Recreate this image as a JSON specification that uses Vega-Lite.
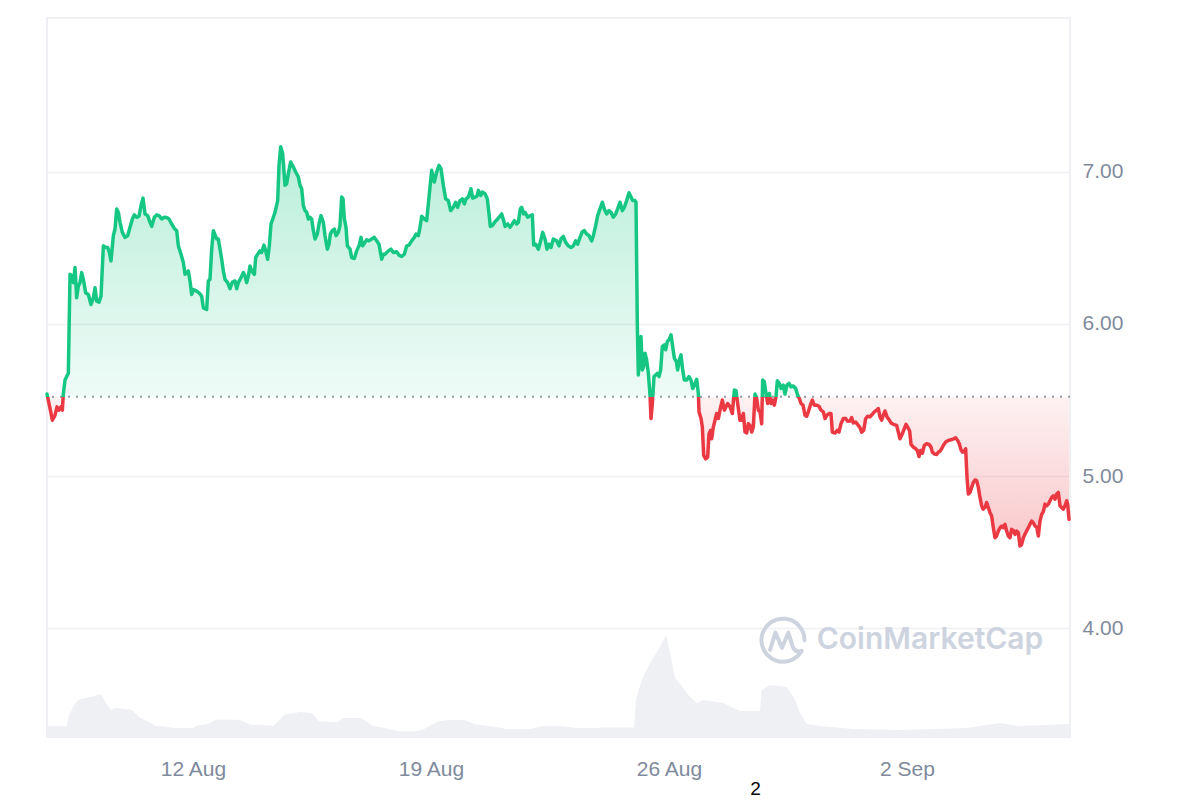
{
"$schema": "https://vega.github.io/schema/vega-lite/v6.json",
"width": 1023,
"height": 719,
"autosize": {"type": "none"},
"padding": {"left": 47, "top": 18, "right": 130, "bottom": 63},
"background": "white",
"config": {"view": {"stroke": "#EEF0F3", "strokeWidth": 2}, "font": "Liberation Sans"},
"title": {"text": "2", "orient": "bottom", "anchor": "start", "dx": 705, "offset": 1, "fontSize": 19, "font": "Liberation Sans", "fontWeight": "normal", "color": "#000000", "baseline": "top"},
"datasets": {
"price": [
{"t":"2024-08-07T16:57","p":5.539},{"t":"2024-08-07T18:50","p":5.455},{"t":"2024-08-07T20:43","p":5.367},{"t":"2024-08-07T22:36","p":5.400},
{"t":"2024-08-08T00:00","p":5.455},{"t":"2024-08-08T01:25","p":5.433},{"t":"2024-08-08T02:50","p":5.455},{"t":"2024-08-08T03:46","p":5.433},
{"t":"2024-08-08T04:29","p":5.543},{"t":"2024-08-08T05:39","p":5.631},{"t":"2024-08-08T06:50","p":5.654},{"t":"2024-08-08T08:00","p":5.676},
{"t":"2024-08-08T09:11","p":6.327},{"t":"2024-08-08T10:21","p":6.316},{"t":"2024-08-08T11:32","p":6.272},{"t":"2024-08-08T12:43","p":6.371},
{"t":"2024-08-08T13:53","p":6.172},{"t":"2024-08-08T15:04","p":6.250},{"t":"2024-08-08T16:14","p":6.272},{"t":"2024-08-08T17:25","p":6.338},
{"t":"2024-08-08T18:36","p":6.294},{"t":"2024-08-08T20:14","p":6.205},{"t":"2024-08-08T22:07","p":6.194},{"t":"2024-08-09T00:00","p":6.128},
{"t":"2024-08-09T01:39","p":6.172},{"t":"2024-08-09T02:50","p":6.239},{"t":"2024-08-09T04:00","p":6.150},{"t":"2024-08-09T05:39","p":6.144},
{"t":"2024-08-09T07:04","p":6.183},{"t":"2024-08-09T08:43","p":6.514},{"t":"2024-08-09T10:22","p":6.503},{"t":"2024-08-09T11:46","p":6.503},
{"t":"2024-08-09T12:57","p":6.470},{"t":"2024-08-09T14:07","p":6.415},{"t":"2024-08-09T15:46","p":6.581},{"t":"2024-08-09T16:57","p":6.625},
{"t":"2024-08-09T18:07","p":6.757},{"t":"2024-08-09T19:18","p":6.735},{"t":"2024-08-09T20:29","p":6.669},{"t":"2024-08-09T22:07","p":6.603},
{"t":"2024-08-10T00:00","p":6.570},{"t":"2024-08-10T01:53","p":6.581},{"t":"2024-08-10T03:32","p":6.636},{"t":"2024-08-10T05:11","p":6.691},
{"t":"2024-08-10T06:36","p":6.718},{"t":"2024-08-10T08:14","p":6.702},{"t":"2024-08-10T09:53","p":6.709},{"t":"2024-08-10T11:18","p":6.779},
{"t":"2024-08-10T12:43","p":6.828},{"t":"2024-08-10T14:07","p":6.724},{"t":"2024-08-10T16:00","p":6.713},{"t":"2024-08-10T17:39","p":6.669},
{"t":"2024-08-10T18:50","p":6.642},{"t":"2024-08-10T20:43","p":6.702},{"t":"2024-08-10T22:21","p":6.718},{"t":"2024-08-11T00:00","p":6.713},
{"t":"2024-08-11T01:53","p":6.691},{"t":"2024-08-11T03:46","p":6.702},{"t":"2024-08-11T05:25","p":6.700},{"t":"2024-08-11T07:04","p":6.691},
{"t":"2024-08-11T08:57","p":6.658},{"t":"2024-08-11T10:50","p":6.629},{"t":"2024-08-11T12:29","p":6.614},{"t":"2024-08-11T13:39","p":6.514},
{"t":"2024-08-11T15:32","p":6.459},{"t":"2024-08-11T17:11","p":6.404},{"t":"2024-08-11T18:22","p":6.327},{"t":"2024-08-11T19:32","p":6.338},
{"t":"2024-08-11T20:43","p":6.349},{"t":"2024-08-11T21:53","p":6.283},{"t":"2024-08-11T23:04","p":6.194},{"t":"2024-08-12T00:15","p":6.227},
{"t":"2024-08-12T02:36","p":6.216},{"t":"2024-08-12T04:15","p":6.205},{"t":"2024-08-12T06:08","p":6.183},{"t":"2024-08-12T07:18","p":6.106},
{"t":"2024-08-12T09:39","p":6.095},{"t":"2024-08-12T10:50","p":6.283},{"t":"2024-08-12T12:00","p":6.294},{"t":"2024-08-12T13:11","p":6.492},
{"t":"2024-08-12T14:22","p":6.614},
{"t":"2024-08-12T16:43","p":6.559},{"t":"2024-08-12T17:53","p":6.559},{"t":"2024-08-12T19:04","p":6.492},{"t":"2024-08-12T20:14","p":6.426},
{"t":"2024-08-12T21:25","p":6.349},{"t":"2024-08-12T22:36","p":6.294},{"t":"2024-08-13T00:28","p":6.272},{"t":"2024-08-13T02:07","p":6.232},
{"t":"2024-08-13T03:46","p":6.276},{"t":"2024-08-13T05:39","p":6.283},{"t":"2024-08-13T06:50","p":6.232},{"t":"2024-08-13T08:00","p":6.272},
{"t":"2024-08-13T09:53","p":6.305},{"t":"2024-08-13T11:32","p":6.338},{"t":"2024-08-13T12:43","p":6.316},{"t":"2024-08-13T13:53","p":6.272},
{"t":"2024-08-13T15:04","p":6.316},{"t":"2024-08-13T16:14","p":6.382},{"t":"2024-08-13T17:25","p":6.349},{"t":"2024-08-13T19:18","p":6.327},
{"t":"2024-08-13T20:14","p":6.437},{"t":"2024-08-13T21:39","p":6.459},{"t":"2024-08-13T23:18","p":6.481},{"t":"2024-08-14T00:28","p":6.470},
{"t":"2024-08-14T02:07","p":6.519},{"t":"2024-08-14T03:18","p":6.481},{"t":"2024-08-14T04:43","p":6.426},{"t":"2024-08-14T05:53","p":6.514},
{"t":"2024-08-14T07:04","p":6.658},{"t":"2024-08-14T08:43","p":6.702},{"t":"2024-08-14T09:53","p":6.735},{"t":"2024-08-14T11:46","p":6.812},
{"t":"2024-08-14T12:43","p":7.044},{"t":"2024-08-14T13:53","p":7.166},{"t":"2024-08-14T15:18","p":7.121},{"t":"2024-08-14T16:57","p":6.912},
{"t":"2024-08-14T18:07","p":6.923},{"t":"2024-08-14T19:18","p":6.989},{"t":"2024-08-14T20:57","p":7.066},{"t":"2024-08-14T22:50","p":7.033},
{"t":"2024-08-15T00:29","p":7.000},{"t":"2024-08-15T02:22","p":6.967},{"t":"2024-08-15T03:32","p":6.912},{"t":"2024-08-15T04:43","p":6.890},
{"t":"2024-08-15T05:53","p":6.779},{"t":"2024-08-15T07:04","p":6.746},{"t":"2024-08-15T08:14","p":6.735},{"t":"2024-08-15T09:25","p":6.691},
{"t":"2024-08-15T10:36","p":6.702},{"t":"2024-08-15T11:46","p":6.691},{"t":"2024-08-15T12:57","p":6.614},{"t":"2024-08-15T14:07","p":6.559},
{"t":"2024-08-15T15:46","p":6.592},{"t":"2024-08-15T16:57","p":6.658},{"t":"2024-08-15T18:21","p":6.713},{"t":"2024-08-15T20:00","p":6.669},
{"t":"2024-08-15T21:11","p":6.581},{"t":"2024-08-15T22:50","p":6.492},{"t":"2024-08-16T00:00","p":6.525},{"t":"2024-08-16T00:57","p":6.592},
{"t":"2024-08-16T02:21","p":6.614},{"t":"2024-08-16T03:46","p":6.625},{"t":"2024-08-16T04:57","p":6.581},{"t":"2024-08-16T06:36","p":6.603},
{"t":"2024-08-16T07:46","p":6.647},{"t":"2024-08-16T08:57","p":6.835},{"t":"2024-08-16T09:53","p":6.823},{"t":"2024-08-16T10:50","p":6.691},
{"t":"2024-08-16T12:00","p":6.636},{"t":"2024-08-16T12:57","p":6.514},{"t":"2024-08-16T14:50","p":6.492},{"t":"2024-08-16T16:00","p":6.437},
{"t":"2024-08-16T17:53","p":6.431},{"t":"2024-08-16T19:32","p":6.481},{"t":"2024-08-16T21:11","p":6.514},{"t":"2024-08-16T22:36","p":6.570},
{"t":"2024-08-16T23:46","p":6.514},{"t":"2024-08-17T01:25","p":6.537},{"t":"2024-08-17T02:36","p":6.554},{"t":"2024-08-17T04:15","p":6.547},
{"t":"2024-08-17T06:08","p":6.559},{"t":"2024-08-17T08:00","p":6.570},{"t":"2024-08-17T09:39","p":6.547},{"t":"2024-08-17T11:18","p":6.525},
{"t":"2024-08-17T13:11","p":6.426},{"t":"2024-08-17T14:22","p":6.459},
{"t":"2024-08-17T15:32","p":6.459},{"t":"2024-08-17T17:53","p":6.481},{"t":"2024-08-17T19:46","p":6.492},{"t":"2024-08-17T21:25","p":6.470},
{"t":"2024-08-17T23:46","p":6.475},{"t":"2024-08-18T01:25","p":6.453},{"t":"2024-08-18T03:18","p":6.444},{"t":"2024-08-18T05:11","p":6.459},
{"t":"2024-08-18T06:50","p":6.514},{"t":"2024-08-18T08:29","p":6.519},{"t":"2024-08-18T10:21","p":6.547},{"t":"2024-08-18T12:14","p":6.570},
{"t":"2024-08-18T13:25","p":6.592},{"t":"2024-08-18T15:04","p":6.581},{"t":"2024-08-18T16:14","p":6.636},{"t":"2024-08-18T17:25","p":6.709},
{"t":"2024-08-18T19:18","p":6.691},{"t":"2024-08-18T20:57","p":6.680},{"t":"2024-08-18T22:36","p":6.835},{"t":"2024-08-19T00:28","p":7.011},
{"t":"2024-08-19T02:21","p":6.934},{"t":"2024-08-19T04:00","p":7.000},{"t":"2024-08-19T05:39","p":7.044},{"t":"2024-08-19T07:04","p":7.022},
{"t":"2024-08-19T08:43","p":6.912},{"t":"2024-08-19T10:22","p":6.823},{"t":"2024-08-19T12:14","p":6.812},{"t":"2024-08-19T13:53","p":6.746},
{"t":"2024-08-19T15:46","p":6.768},{"t":"2024-08-19T17:25","p":6.801},{"t":"2024-08-19T18:50","p":6.768},{"t":"2024-08-19T20:29","p":6.812},
{"t":"2024-08-19T22:07","p":6.823},{"t":"2024-08-19T23:32","p":6.790},{"t":"2024-08-20T00:43","p":6.823},{"t":"2024-08-20T02:22","p":6.835},
{"t":"2024-08-20T04:14","p":6.890},{"t":"2024-08-20T05:25","p":6.828},{"t":"2024-08-20T07:04","p":6.835},{"t":"2024-08-20T08:29","p":6.841},
{"t":"2024-08-20T09:25","p":6.879},{"t":"2024-08-20T11:04","p":6.846},{"t":"2024-08-20T12:15","p":6.868},{"t":"2024-08-20T14:07","p":6.857},
{"t":"2024-08-20T15:46","p":6.823},{"t":"2024-08-20T16:57","p":6.724},{"t":"2024-08-20T17:53","p":6.642},{"t":"2024-08-20T19:18","p":6.647},
{"t":"2024-08-20T21:11","p":6.673},{"t":"2024-08-20T23:04","p":6.691},{"t":"2024-08-21T00:43","p":6.709},{"t":"2024-08-21T01:53","p":6.724},
{"t":"2024-08-21T03:18","p":6.680},{"t":"2024-08-21T04:15","p":6.642},{"t":"2024-08-21T06:07","p":6.658},{"t":"2024-08-21T07:46","p":6.636},
{"t":"2024-08-21T09:25","p":6.658},{"t":"2024-08-21T10:50","p":6.680},{"t":"2024-08-21T12:29","p":6.658},{"t":"2024-08-21T13:39","p":6.669},
{"t":"2024-08-21T15:04","p":6.757},{"t":"2024-08-21T16:00","p":6.768},{"t":"2024-08-21T17:25","p":6.724},{"t":"2024-08-21T18:22","p":6.735},
{"t":"2024-08-21T20:15","p":6.702},{"t":"2024-08-21T21:53","p":6.713},{"t":"2024-08-21T23:32","p":6.718},{"t":"2024-08-22T00:29","p":6.519},
{"t":"2024-08-22T01:53","p":6.525},{"t":"2024-08-22T03:46","p":6.492},{"t":"2024-08-22T05:25","p":6.547},{"t":"2024-08-22T06:50","p":6.603},
{"t":"2024-08-22T08:29","p":6.559},{"t":"2024-08-22T09:53","p":6.492},{"t":"2024-08-22T11:18","p":6.525},{"t":"2024-08-22T12:43","p":6.503},
{"t":"2024-08-22T14:22","p":6.559},
{"t":"2024-08-22T16:43","p":6.547},{"t":"2024-08-22T18:21","p":6.514},{"t":"2024-08-22T19:46","p":6.559},{"t":"2024-08-22T21:25","p":6.576},
{"t":"2024-08-22T23:04","p":6.537},{"t":"2024-08-23T00:57","p":6.514},{"t":"2024-08-23T02:50","p":6.503},{"t":"2024-08-23T04:29","p":6.514},
{"t":"2024-08-23T06:07","p":6.547},{"t":"2024-08-23T07:32","p":6.525},{"t":"2024-08-23T09:11","p":6.570},{"t":"2024-08-23T10:50","p":6.607},
{"t":"2024-08-23T12:14","p":6.614},{"t":"2024-08-23T13:53","p":6.592},{"t":"2024-08-23T15:32","p":6.581},{"t":"2024-08-23T17:25","p":6.547},
{"t":"2024-08-23T18:36","p":6.581},{"t":"2024-08-23T20:14","p":6.647},{"t":"2024-08-23T21:39","p":6.713},{"t":"2024-08-23T23:18","p":6.757},
{"t":"2024-08-24T00:57","p":6.801},{"t":"2024-08-24T02:21","p":6.757},{"t":"2024-08-24T04:00","p":6.724},{"t":"2024-08-24T05:39","p":6.746},
{"t":"2024-08-24T07:04","p":6.735},{"t":"2024-08-24T08:43","p":6.702},{"t":"2024-08-24T10:22","p":6.724},{"t":"2024-08-24T11:46","p":6.757},
{"t":"2024-08-24T13:25","p":6.801},{"t":"2024-08-24T15:04","p":6.746},{"t":"2024-08-24T16:29","p":6.768},{"t":"2024-08-24T18:07","p":6.812},
{"t":"2024-08-24T19:46","p":6.863},{"t":"2024-08-24T21:11","p":6.835},{"t":"2024-08-24T22:22","p":6.812},{"t":"2024-08-25T00:00","p":6.812},
{"t":"2024-08-25T00:43","p":6.801},{"t":"2024-08-25T01:39","p":5.985},{"t":"2024-08-25T02:22","p":5.665},{"t":"2024-08-25T03:32","p":5.808},
{"t":"2024-08-25T04:14","p":5.918},{"t":"2024-08-25T05:11","p":5.698},{"t":"2024-08-25T06:07","p":5.720},{"t":"2024-08-25T07:04","p":5.808},
{"t":"2024-08-25T08:14","p":5.764},{"t":"2024-08-25T09:25","p":5.676},{"t":"2024-08-25T10:36","p":5.532},{"t":"2024-08-25T11:18","p":5.378},
{"t":"2024-08-25T12:15","p":5.477},{"t":"2024-08-25T13:25","p":5.654},{"t":"2024-08-25T14:36","p":5.665},{"t":"2024-08-25T15:46","p":5.676},
{"t":"2024-08-25T16:57","p":5.654},{"t":"2024-08-25T18:07","p":5.698},{"t":"2024-08-25T19:18","p":5.852},{"t":"2024-08-25T20:43","p":5.863},
{"t":"2024-08-25T21:39","p":5.830},{"t":"2024-08-25T22:50","p":5.885},{"t":"2024-08-26T00:00","p":5.896},{"t":"2024-08-26T01:25","p":5.929},
{"t":"2024-08-26T02:36","p":5.852},{"t":"2024-08-26T03:46","p":5.775},{"t":"2024-08-26T05:11","p":5.753},{"t":"2024-08-26T06:07","p":5.698},
{"t":"2024-08-26T07:18","p":5.764},{"t":"2024-08-26T08:29","p":5.797},{"t":"2024-08-26T09:39","p":5.698},{"t":"2024-08-26T10:50","p":5.631},
{"t":"2024-08-26T12:29","p":5.631},{"t":"2024-08-26T14:07","p":5.654},{"t":"2024-08-26T15:32","p":5.631},{"t":"2024-08-26T16:43","p":5.576},
{"t":"2024-08-26T18:22","p":5.609},{"t":"2024-08-26T19:32","p":5.636},{"t":"2024-08-26T20:43","p":5.543},{"t":"2024-08-26T21:11","p":5.422},
{"t":"2024-08-26T22:36","p":5.378},{"t":"2024-08-26T23:32","p":5.322},{"t":"2024-08-27T00:29","p":5.135},{"t":"2024-08-27T01:53","p":5.113},
{"t":"2024-08-27T03:18","p":5.124},{"t":"2024-08-27T04:15","p":5.278},{"t":"2024-08-27T05:25","p":5.300},{"t":"2024-08-27T06:08","p":5.245},
{"t":"2024-08-27T07:18","p":5.322},{"t":"2024-08-27T08:29","p":5.367},{"t":"2024-08-27T09:39","p":5.411},{"t":"2024-08-27T10:50","p":5.378},
{"t":"2024-08-27T12:29","p":5.455},{"t":"2024-08-27T13:39","p":5.499},{"t":"2024-08-27T15:04","p":5.433},
{"t":"2024-08-27T17:25","p":5.477},{"t":"2024-08-27T19:04","p":5.455},{"t":"2024-08-27T20:43","p":5.411},{"t":"2024-08-27T22:07","p":5.565},
{"t":"2024-08-27T23:18","p":5.561},{"t":"2024-08-28T00:28","p":5.477},{"t":"2024-08-28T02:07","p":5.367},{"t":"2024-08-28T03:18","p":5.367},
{"t":"2024-08-28T04:29","p":5.411},{"t":"2024-08-28T05:39","p":5.289},{"t":"2024-08-28T06:50","p":5.283},{"t":"2024-08-28T08:00","p":5.344},
{"t":"2024-08-28T09:11","p":5.333},{"t":"2024-08-28T10:21","p":5.289},{"t":"2024-08-28T11:32","p":5.322},{"t":"2024-08-28T12:43","p":5.539},
{"t":"2024-08-28T13:53","p":5.510},{"t":"2024-08-28T15:04","p":5.433},{"t":"2024-08-28T16:14","p":5.422},{"t":"2024-08-28T17:25","p":5.344},
{"t":"2024-08-28T18:07","p":5.631},{"t":"2024-08-28T19:18","p":5.620},{"t":"2024-08-28T20:28","p":5.543},{"t":"2024-08-28T21:39","p":5.477},
{"t":"2024-08-28T22:50","p":5.543},{"t":"2024-08-29T00:00","p":5.477},{"t":"2024-08-29T01:11","p":5.499},{"t":"2024-08-29T02:21","p":5.466},
{"t":"2024-08-29T03:32","p":5.521},{"t":"2024-08-29T04:28","p":5.627},{"t":"2024-08-29T05:53","p":5.609},{"t":"2024-08-29T07:04","p":5.576},
{"t":"2024-08-29T08:43","p":5.598},{"t":"2024-08-29T09:53","p":5.539},{"t":"2024-08-29T11:18","p":5.598},{"t":"2024-08-29T12:43","p":5.609},
{"t":"2024-08-29T14:07","p":5.587},{"t":"2024-08-29T15:46","p":5.592},{"t":"2024-08-29T17:25","p":5.576},{"t":"2024-08-29T18:50","p":5.532},
{"t":"2024-08-29T20:00","p":5.510},{"t":"2024-08-29T21:11","p":5.477},{"t":"2024-08-29T22:36","p":5.466},{"t":"2024-08-30T00:00","p":5.400},
{"t":"2024-08-30T01:11","p":5.393},{"t":"2024-08-30T02:22","p":5.422},{"t":"2024-08-30T03:46","p":5.466},{"t":"2024-08-30T05:11","p":5.499},
{"t":"2024-08-30T06:36","p":5.466},{"t":"2024-08-30T08:14","p":5.466},{"t":"2024-08-30T09:53","p":5.459},{"t":"2024-08-30T11:18","p":5.433},
{"t":"2024-08-30T12:57","p":5.422},{"t":"2024-08-30T14:07","p":5.378},{"t":"2024-08-30T15:32","p":5.400},{"t":"2024-08-30T16:57","p":5.411},
{"t":"2024-08-30T18:21","p":5.411},{"t":"2024-08-30T19:18","p":5.289},{"t":"2024-08-30T21:11","p":5.283},{"t":"2024-08-30T22:50","p":5.300},
{"t":"2024-08-31T00:00","p":5.289},{"t":"2024-08-31T01:25","p":5.344},{"t":"2024-08-31T03:04","p":5.378},{"t":"2024-08-31T04:43","p":5.378},
{"t":"2024-08-31T06:07","p":5.360},{"t":"2024-08-31T07:46","p":5.362},{"t":"2024-08-31T08:57","p":5.384},{"t":"2024-08-31T10:07","p":5.349},
{"t":"2024-08-31T11:46","p":5.355},{"t":"2024-08-31T13:39","p":5.333},{"t":"2024-08-31T14:50","p":5.318},{"t":"2024-08-31T16:00","p":5.289},
{"t":"2024-08-31T17:25","p":5.300},{"t":"2024-08-31T18:50","p":5.378},{"t":"2024-08-31T20:15","p":5.393},{"t":"2024-08-31T21:53","p":5.389},
{"t":"2024-08-31T23:32","p":5.406},{"t":"2024-09-01T00:57","p":5.422},{"t":"2024-09-01T02:36","p":5.433},{"t":"2024-09-01T03:46","p":5.444},
{"t":"2024-09-01T04:57","p":5.389},{"t":"2024-09-01T06:08","p":5.367},{"t":"2024-09-01T07:18","p":5.400},{"t":"2024-09-01T08:29","p":5.428},
{"t":"2024-09-01T09:53","p":5.389},{"t":"2024-09-01T11:18","p":5.371},{"t":"2024-09-01T12:43","p":5.349},{"t":"2024-09-01T14:22","p":5.340},
{"t":"2024-09-01T16:43","p":5.333},{"t":"2024-09-01T17:53","p":5.289},{"t":"2024-09-01T19:04","p":5.245},{"t":"2024-09-01T20:43","p":5.278},
{"t":"2024-09-01T22:07","p":5.311},{"t":"2024-09-01T23:18","p":5.340},{"t":"2024-09-02T00:28","p":5.322},{"t":"2024-09-02T01:53","p":5.296},
{"t":"2024-09-02T02:50","p":5.208},{"t":"2024-09-02T04:29","p":5.190},{"t":"2024-09-02T06:07","p":5.179},{"t":"2024-09-02T07:18","p":5.168},
{"t":"2024-09-02T08:29","p":5.128},{"t":"2024-09-02T09:39","p":5.168},{"t":"2024-09-02T10:50","p":5.150},{"t":"2024-09-02T12:14","p":5.201},
{"t":"2024-09-02T13:53","p":5.212},{"t":"2024-09-02T15:32","p":5.208},{"t":"2024-09-02T16:57","p":5.190},{"t":"2024-09-02T17:53","p":5.157},
{"t":"2024-09-02T19:18","p":5.146},{"t":"2024-09-02T20:57","p":5.141},{"t":"2024-09-02T22:07","p":5.157},{"t":"2024-09-02T23:18","p":5.163},
{"t":"2024-09-03T00:28","p":5.179},{"t":"2024-09-03T01:39","p":5.201},{"t":"2024-09-03T03:18","p":5.223},{"t":"2024-09-03T05:11","p":5.234},
{"t":"2024-09-03T07:04","p":5.238},{"t":"2024-09-03T08:57","p":5.245},{"t":"2024-09-03T10:22","p":5.252},{"t":"2024-09-03T11:46","p":5.234},
{"t":"2024-09-03T12:57","p":5.212},{"t":"2024-09-03T14:07","p":5.172},{"t":"2024-09-03T15:18","p":5.157},{"t":"2024-09-03T16:29","p":5.163},
{"t":"2024-09-03T17:25","p":5.179},{"t":"2024-09-03T18:22","p":4.991},{"t":"2024-09-03T19:18","p":4.881},{"t":"2024-09-03T20:29","p":4.892},
{"t":"2024-09-03T21:39","p":4.925},{"t":"2024-09-03T22:50","p":4.958},{"t":"2024-09-04T00:00","p":4.974},{"t":"2024-09-04T01:11","p":4.969},
{"t":"2024-09-04T02:22","p":4.925},{"t":"2024-09-04T03:32","p":4.859},{"t":"2024-09-04T04:43","p":4.804},{"t":"2024-09-04T05:39","p":4.782},
{"t":"2024-09-04T07:04","p":4.793},{"t":"2024-09-04T08:14","p":4.826},{"t":"2024-09-04T09:25","p":4.793},{"t":"2024-09-04T10:36","p":4.759},
{"t":"2024-09-04T11:46","p":4.737},{"t":"2024-09-04T12:57","p":4.660},{"t":"2024-09-04T14:07","p":4.594},{"t":"2024-09-04T15:18","p":4.605},
{"t":"2024-09-04T16:29","p":4.638},{"t":"2024-09-04T17:39","p":4.660},{"t":"2024-09-04T18:50","p":4.671},{"t":"2024-09-04T20:00","p":4.660},
{"t":"2024-09-04T21:11","p":4.682},{"t":"2024-09-04T22:21","p":4.638},{"t":"2024-09-04T23:32","p":4.605},{"t":"2024-09-05T00:43","p":4.594},
{"t":"2024-09-05T01:53","p":4.649},{"t":"2024-09-05T03:04","p":4.642},{"t":"2024-09-05T04:15","p":4.616},{"t":"2024-09-05T05:25","p":4.638},
{"t":"2024-09-05T06:36","p":4.627},{"t":"2024-09-05T07:46","p":4.539},{"t":"2024-09-05T08:57","p":4.550},{"t":"2024-09-05T10:07","p":4.594},
{"t":"2024-09-05T11:46","p":4.627},{"t":"2024-09-05T13:39","p":4.660},{"t":"2024-09-05T14:50","p":4.682},{"t":"2024-09-05T16:00","p":4.704},
{"t":"2024-09-05T17:11","p":4.693},{"t":"2024-09-05T18:22","p":4.671},{"t":"2024-09-05T19:32","p":4.665},{"t":"2024-09-05T20:43","p":4.605},
{"t":"2024-09-05T21:53","p":4.704},{"t":"2024-09-05T23:04","p":4.748},{"t":"2024-09-06T00:14","p":4.766},{"t":"2024-09-06T01:25","p":4.815},
{"t":"2024-09-06T02:36","p":4.804},{"t":"2024-09-06T03:46","p":4.815},{"t":"2024-09-06T04:57","p":4.837},{"t":"2024-09-06T06:08","p":4.859},
{"t":"2024-09-06T07:18","p":4.870},{"t":"2024-09-06T08:29","p":4.848},{"t":"2024-09-06T09:39","p":4.881},{"t":"2024-09-06T10:50","p":4.892},
{"t":"2024-09-06T12:00","p":4.804},{"t":"2024-09-06T13:11","p":4.793},{"t":"2024-09-06T14:22","p":4.782},{"t":"2024-09-06T15:32","p":4.804},
{"t":"2024-09-06T16:43","p":4.837},{"t":"2024-09-06T17:25","p":4.815},{"t":"2024-09-06T18:22","p":4.715}
],
"volume": [
{"t":"2024-08-07T16:56","v":2.7},{"t":"2024-08-08T06:55","v":2.7},{"t":"2024-08-08T08:16","v":5.2},{"t":"2024-08-08T12:17","v":8.1},
{"t":"2024-08-08T15:02","v":9.3},{"t":"2024-08-08T20:24","v":9.75},{"t":"2024-08-09T01:50","v":10.2},{"t":"2024-08-09T07:12","v":10.75},
{"t":"2024-08-09T09:57","v":8.9},{"t":"2024-08-09T13:59","v":6.8},{"t":"2024-08-09T18:00","v":7.25},{"t":"2024-08-10T04:48","v":6.8},
{"t":"2024-08-10T10:14","v":4.9},{"t":"2024-08-10T18:21","v":3.5},{"t":"2024-08-10T21:02","v":2.8},{"t":"2024-08-11T02:28","v":2.7},
{"t":"2024-08-11T10:35","v":2.25},{"t":"2024-08-12T00:04","v":2.25},{"t":"2024-08-12T02:45","v":2.8},{"t":"2024-08-12T10:52","v":3.3},
{"t":"2024-08-12T16:14","v":4.3},{"t":"2024-08-13T08:28","v":4.3},{"t":"2024-08-13T16:35","v":3.1},{"t":"2024-08-14T08:45","v":2.8},
{"t":"2024-08-14T16:52","v":5.6},{"t":"2024-08-15T03:40","v":6.25},{"t":"2024-08-15T11:47","v":6.0},{"t":"2024-08-15T17:13","v":3.9},
{"t":"2024-08-16T06:43","v":3.75},{"t":"2024-08-16T09:23","v":4.75},{"t":"2024-08-16T22:56","v":4.75},{"t":"2024-08-17T07:04","v":2.8},
{"t":"2024-08-17T15:07","v":2.25},{"t":"2024-08-18T01:55","v":1.4},{"t":"2024-08-18T12:43","v":1.4},{"t":"2024-08-18T18:08","v":1.8},
{"t":"2024-08-19T04:56","v":3.9},{"t":"2024-08-19T13:04","v":4.3},{"t":"2024-08-19T23:52","v":4.2},{"t":"2024-08-20T07:59","v":3.1},
{"t":"2024-08-20T18:47","v":2.7},{"t":"2024-08-21T05:35","v":2.0},{"t":"2024-08-21T21:49","v":2.0},{"t":"2024-08-22T05:52","v":2.7},
{"t":"2024-08-22T22:05","v":2.7},{"t":"2024-08-23T06:13","v":2.25},{"t":"2024-08-23T22:27","v":2.25},{"t":"2024-08-24T01:08","v":2.4},
{"t":"2024-08-24T23:18","v":2.4},{"t":"2024-08-25T00:42","v":9.25},{"t":"2024-08-25T04:44","v":14.25},{"t":"2024-08-25T10:35","v":18.5},
{"t":"2024-08-25T16:27","v":21.75},{"t":"2024-08-25T21:11","v":25.0},{"t":"2024-08-25T22:23","v":25.25},{"t":"2024-08-26T00:43","v":21.0},
{"t":"2024-08-26T04:14","v":14.75},{"t":"2024-08-26T08:58","v":12.75},{"t":"2024-08-26T13:38","v":10.5},{"t":"2024-08-26T19:34","v":8.5},
{"t":"2024-08-27T00:13","v":9.25},{"t":"2024-08-27T14:20","v":8.5},{"t":"2024-08-27T21:24","v":7.25},{"t":"2024-08-28T02:07","v":6.5},
{"t":"2024-08-28T16:14","v":6.5},{"t":"2024-08-28T17:26","v":11.75},{"t":"2024-08-28T23:17","v":13.0},{"t":"2024-08-29T11:05","v":12.5},
{"t":"2024-08-29T16:56","v":9.25},{"t":"2024-08-29T20:28","v":6.0},{"t":"2024-08-30T01:12","v":3.25},{"t":"2024-08-30T10:35","v":2.75},
{"t":"2024-08-31T10:06","v":2.0},{"t":"2024-09-01T19:04","v":1.75},{"t":"2024-09-03T18:08","v":2.25},{"t":"2024-09-04T17:39","v":3.5},
{"t":"2024-09-05T07:46","v":2.75},{"t":"2024-09-06T02:36","v":3.0},{"t":"2024-09-06T19:04","v":3.25}
]
},
"layer": [
{
"data": {"name": "volume"},
"mark": {"type": "area", "color": "#EEF0F3", "interpolate": "linear"},
"encoding": {
"x": {"field": "t", "type": "temporal", "scale": {"type": "time", "domain": [{"year":2024,"month":8,"date":7,"hours":16,"minutes":56},{"year":2024,"month":9,"date":6,"hours":19,"minutes":4}]}, "axis": {"values": [{"year":2024,"month":8,"date":12},{"year":2024,"month":8,"date":19},{"year":2024,"month":8,"date":26},{"year":2024,"month":9,"date":2}], "format": "%-d %b", "title": null, "domain": false, "ticks": false, "grid": false, "labelFontSize": 21, "labelColor": "#808A9D", "labelPadding": 21, "labelFont": "Liberation Sans", "labelFlush": false}},
"y": {"field": "v", "type": "quantitative", "scale": {"domain": [0, 179.75], "nice": false, "zero": true}, "axis": null}
}
},
{
"layer": [
{
"data": {"name": "price"},
"mark": {"type": "area", "interpolate": "linear", "fill": {"gradient": "linear", "x1": 0, "y1": 0, "x2": 0, "y2": 1, "stops": [{"offset": 0, "color": "rgba(22,199,132,0.30)"}, {"offset": 0.6262, "color": "rgba(22,199,132,0.07)"}, {"offset": 0.6262, "color": "rgba(234,57,67,0.07)"}, {"offset": 1, "color": "rgba(234,57,67,0.28)"}]}},
"encoding": {
"x": {"field": "t", "type": "temporal", "scale": {"type": "time", "domain": [{"year":2024,"month":8,"date":7,"hours":16,"minutes":56},{"year":2024,"month":9,"date":6,"hours":19,"minutes":4}]}, "axis": {"values": [{"year":2024,"month":8,"date":12},{"year":2024,"month":8,"date":19},{"year":2024,"month":8,"date":26},{"year":2024,"month":9,"date":2}], "format": "%-d %b", "title": null, "domain": false, "ticks": false, "grid": false, "labelFontSize": 21, "labelColor": "#808A9D", "labelPadding": 21, "labelFont": "Liberation Sans", "labelFlush": false}},
"y": {"field": "p", "type": "quantitative", "scale": {"domain": [3.283, 8.013], "nice": false, "zero": false}, "axis": {"orient": "right", "values": [4, 5, 6, 7], "format": ".2f", "title": null, "domain": false, "ticks": false, "grid": true, "gridColor": "#EEF0F3", "gridWidth": 1.5, "labelFontSize": 21, "labelColor": "#808A9D", "labelPadding": 12, "labelFont": "Liberation Sans", "labelAlign": "left", "labelBaseline": "middle"}},
"y2": {"datum": 5.521}
}
},
{
"data": {"values": [{}]},
"mark": {"type": "rule", "stroke": "#9499A3", "strokeWidth": 2, "strokeDash": [2, 6]},
"encoding": {
"y": {"datum": 5.521, "type": "quantitative", "scale": {"domain": [3.283, 8.013], "nice": false, "zero": false}}
}
},
{
"data": {"name": "price"},
"mark": {"type": "line", "interpolate": "linear", "strokeWidth": 3.5, "strokeJoin": "round", "strokeCap": "round", "stroke": {"gradient": "linear", "x1": 0, "y1": 0, "x2": 0, "y2": 1, "stops": [{"offset": 0, "color": "#16C784"}, {"offset": 0.6262, "color": "#16C784"}, {"offset": 0.6262, "color": "#EA3943"}, {"offset": 1, "color": "#EA3943"}]}},
"encoding": {
"x": {"field": "t", "type": "temporal", "scale": {"type": "time", "domain": [{"year":2024,"month":8,"date":7,"hours":16,"minutes":56},{"year":2024,"month":9,"date":6,"hours":19,"minutes":4}]}, "axis": {"values": [{"year":2024,"month":8,"date":12},{"year":2024,"month":8,"date":19},{"year":2024,"month":8,"date":26},{"year":2024,"month":9,"date":2}], "format": "%-d %b", "title": null, "domain": false, "ticks": false, "grid": false, "labelFontSize": 21, "labelColor": "#808A9D", "labelPadding": 21, "labelFont": "Liberation Sans", "labelFlush": false}},
"y": {"field": "p", "type": "quantitative", "scale": {"domain": [3.283, 8.013], "nice": false, "zero": false}, "axis": {"orient": "right", "values": [4, 5, 6, 7], "format": ".2f", "title": null, "domain": false, "ticks": false, "grid": true, "gridColor": "#EEF0F3", "gridWidth": 1.5, "labelFontSize": 21, "labelColor": "#808A9D", "labelPadding": 12, "labelFont": "Liberation Sans", "labelAlign": "left", "labelBaseline": "middle"}}
}
},
{
"data": {"values": [{}]},
"mark": {"type": "text", "text": "CoinMarketCap", "font": "Inter", "fontSize": 30, "fontWeight": 600, "color": "#CDD3DF", "align": "center", "baseline": "middle"},
"encoding": {
"x": {"datum": {"year":2024,"month":9,"date":2,"hours":16,"minutes":14}, "type": "temporal"},
"y": {"datum": 3.92, "type": "quantitative"}
}
},
{
"data": {"values": [{}]},
"mark": {"type": "point", "shape": "M0.866,0.5A1,1,0,1,1,1,0M-0.6,0.45L-0.35,-0.35L-0.05,0.35L0.25,-0.35L0.45,0.3Q0.6,0.62,0.866,0.5", "size": 1850, "filled": false, "stroke": "#CDD3DF", "strokeWidth": 4, "strokeCap": "round", "strokeJoin": "round", "opacity": 1},
"encoding": {
"x": {"datum": {"year":2024,"month":8,"date":29,"hours":8,"minutes":28}, "type": "temporal"},
"y": {"datum": 3.92, "type": "quantitative"}
}
}
]
}
],
"resolve": {"scale": {"y": "independent"}}
}
